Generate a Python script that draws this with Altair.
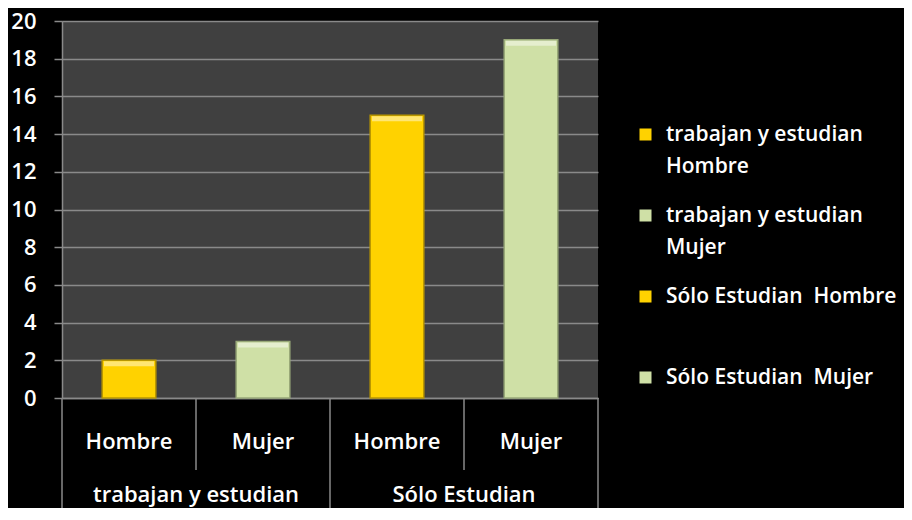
import altair as alt
import pandas as pd

# ---- data ----
groups = ["trabajan y estudian", "trabajan y estudian", "Sólo Estudian", "Sólo Estudian"]
sexes = ["Hombre", "Mujer", "Hombre", "Mujer"]
values = [2, 3, 15, 19]
series = [
    "\u00a0trabajan y estudian|Hombre",
    "\u00a0trabajan y estudian|Mujer",
    "Sólo Estudian\u00a0 Hombre|",
    "Sólo Estudian\u00a0 Mujer|",
]
fill_colors = ["#FFD200", "#CFE0A6", "#FFD200", "#CFE0A6"]
edge_colors = ["#B89600", "#98A878", "#B89600", "#98A878"]
y_ticks = [0, 2, 4, 6, 8, 10, 12, 14, 16, 18, 20]
group_names = ["trabajan y estudian", "Sólo Estudian"]

cats = [f"{g}|{s}" for g, s in zip(groups, sexes)]
df = pd.DataFrame({"cat": cats, "valor": values, "serie": series})

FONT = "Open Sans"
FS = 22
FW = 600
GRID = "#8A8A8A"
H = 377

xscale = alt.Scale(domain=cats, paddingInner=0, paddingOuter=0)

x_enc = alt.X(
    "cat:N", sort=cats, scale=xscale,
    axis=alt.Axis(
        title=None, labelExpr="split(datum.label,'|')[1]", ticks=False,
        labelAngle=0, labelPadding=33, labelFont=FONT, labelFontSize=FS,
        labelFontWeight=FW, labelColor="white", domainColor=GRID, domainWidth=1.5,
        grid=False,
    ),
)
y_enc = alt.Y(
    "valor:Q", scale=alt.Scale(domain=[0, 20]),
    axis=alt.Axis(
        title=None, values=y_ticks, grid=True, gridColor=GRID, gridWidth=1.5,
        tickColor=GRID, tickSize=8, tickWidth=1.5, domainColor=GRID, domainWidth=1.5,
        labelFont=FONT, labelFontSize=FS, labelFontWeight=FW, labelColor="white",
        labelPadding=18,
    ),
)

bars = alt.Chart(df).mark_bar(width=alt.RelativeBandSize(0.4), strokeWidth=1.5).encode(
    x=x_enc,
    y=y_enc,
    color=alt.Color(
        "serie:N", sort=series, scale=alt.Scale(domain=series, range=fill_colors),
        legend=alt.Legend(
            title=None, orient="none", legendX=573, legendY=103,
            labelExpr="split(datum.label,'|')", labelFont=FONT, labelFontSize=21,
            labelFontWeight=FW, labelColor="white", labelLimit=400,
            labelBaseline="middle",
            symbolType="square", symbolSize=144, symbolStrokeWidth=0,
            labelOffset=10, rowPadding=27, padding=0,
        ),
    ),
    stroke=alt.Stroke("serie:N", sort=series,
                      scale=alt.Scale(domain=series, range=edge_colors), legend=None),
)

# light bevel along the top of each bar
caps = alt.Chart(df).mark_tick(size=50, thickness=5, yOffset=3.5, opacity=0.45).encode(
    x=x_enc,
    y=y_enc,
    color=alt.value("white"),
)

# category separators
sep_df = pd.DataFrame({"cat": [cats[1], cats[3]]})
inner = alt.Chart(sep_df).mark_rule(color=GRID, strokeWidth=1.5).encode(
    x=alt.X("cat:N", sort=cats, scale=xscale, bandPosition=0),
    y=alt.value(H), y2=alt.value(H + 72),
)
outer_left_df = pd.DataFrame({"cat": [cats[0], cats[2]]})
outer_left = alt.Chart(outer_left_df).mark_rule(color=GRID, strokeWidth=1.5).encode(
    x=alt.X("cat:N", sort=cats, scale=xscale, bandPosition=0),
    y=alt.value(H), y2=alt.value(H + 140),
)
outer_right_df = pd.DataFrame({"cat": [cats[3]]})
outer_right = alt.Chart(outer_right_df).mark_rule(color=GRID, strokeWidth=1.5).encode(
    x=alt.X("cat:N", sort=cats, scale=xscale, bandPosition=1),
    y=alt.value(H), y2=alt.value(H + 140),
)

grp_df = pd.DataFrame({"cat": [cats[0], cats[2]], "grupo": group_names})
grp_text = alt.Chart(grp_df).mark_text(
    font=FONT, fontSize=FS, fontWeight=FW, color="white", baseline="middle", align="center"
).encode(
    x=alt.X("cat:N", sort=cats, scale=xscale, bandPosition=1),
    y=alt.value(H + 97),
    text="grupo:N",
)

chart = alt.layer(bars, caps, inner, outer_left, outer_right, grp_text).properties(
    width=536, height=H,
    padding={"left": 54, "top": 13, "right": 306, "bottom": 110},
    autosize=alt.AutoSizeParams(type="none"),
    background="#000000",
).configure(
    style={"guide-label": {"lineHeight": 32}}
).configure_view(fill="#404040", strokeWidth=0)

chart.save("out.html", embed_options={"renderer": "svg", "actions": False})
